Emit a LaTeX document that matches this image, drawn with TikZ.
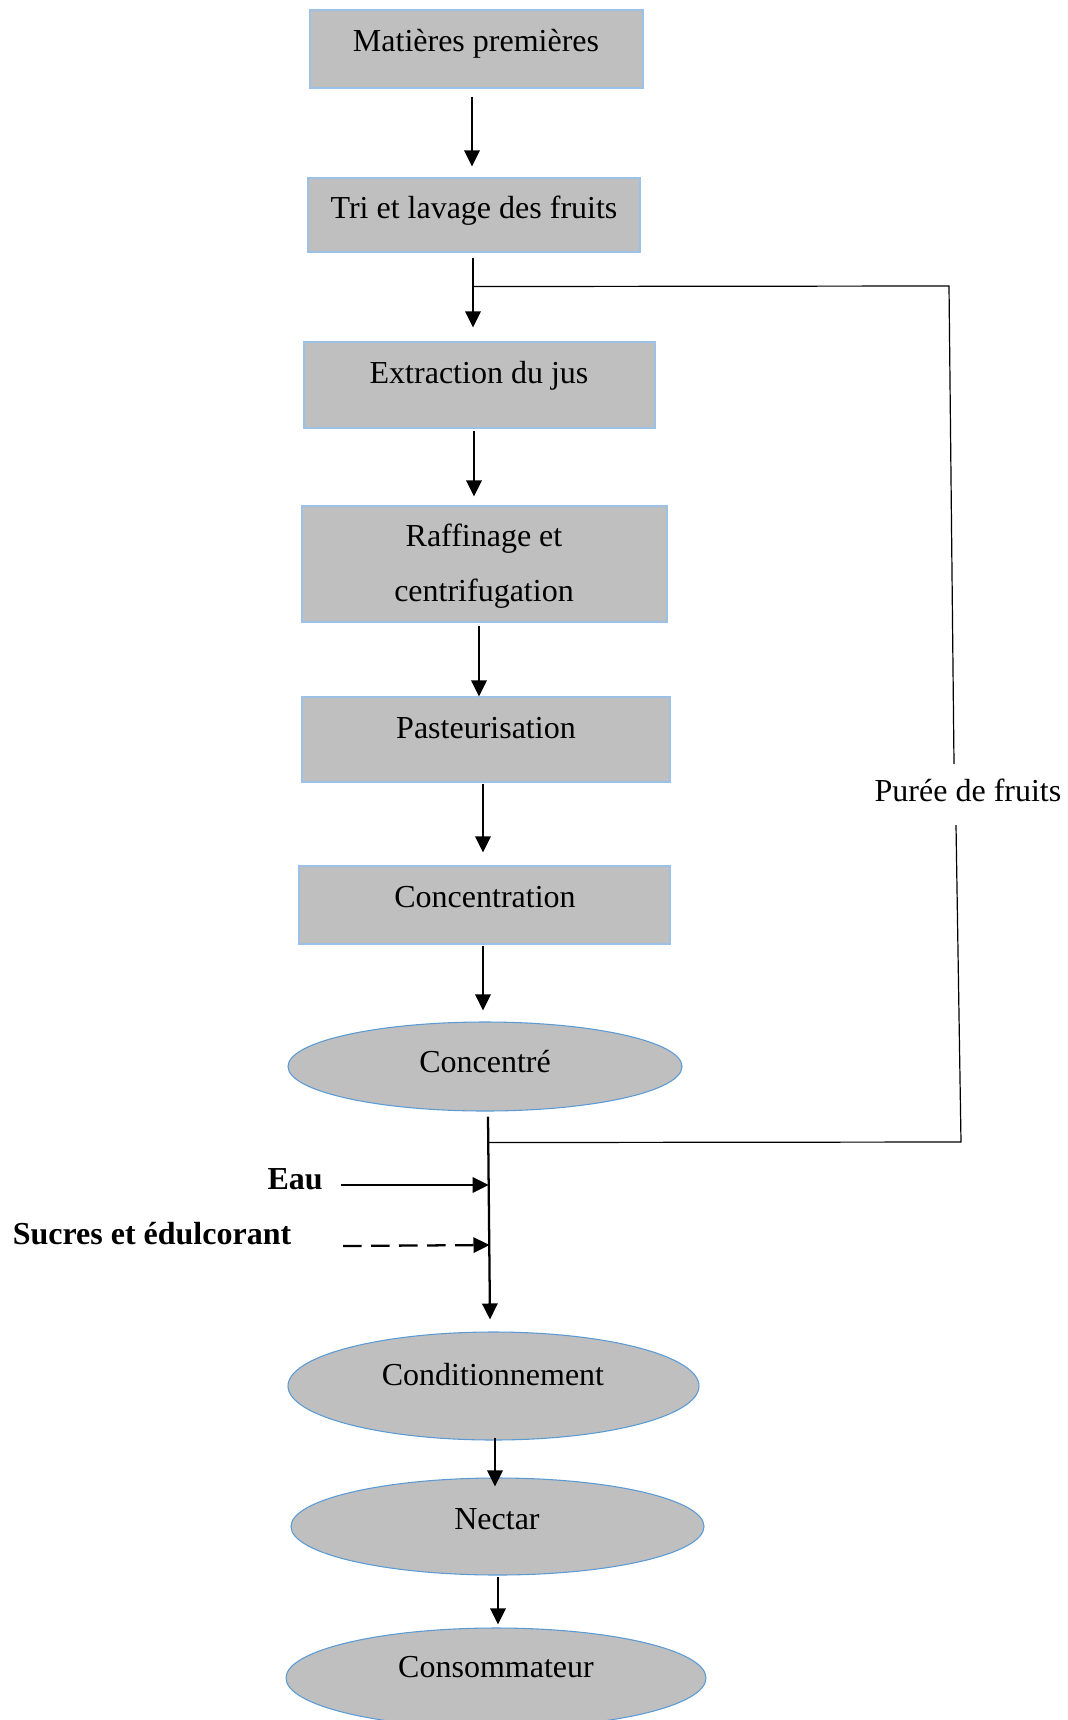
\documentclass[tikz,border=0pt]{standalone}
\usepackage{fontspec}
\setmainfont{Liberation Serif}
\usetikzlibrary{shapes.geometric,arrows.meta,calc}
\definecolor{boxfill}{RGB}{191,191,191}
\definecolor{boxline}{RGB}{155,194,230}
\definecolor{ellline}{RGB}{91,155,213}
\def\pxu{0.75pt}
\begin{document}
\begin{tikzpicture}[x=0.75pt,y=-0.75pt,
  stepbox/.style={draw=boxline, line width=0.8pt, fill=boxfill, inner sep=0pt},
  ellbox/.style={ellipse, draw=ellline, line width=0.8pt, fill=boxfill, inner sep=0pt},
  lbl/.style={font=\fontsize{24}{41}\selectfont, text height=16.5pt, text depth=5.3pt, inner sep=0pt},
  blbl/.style={lbl, font=\fontsize{24}{41}\selectfont\bfseries},
  arr/.style={line width=1.7pt, -{Triangle[length=12pt,width=11.5pt]}},
  thinline/.style={line width=0.9pt}]
\useasboundingbox (0,0) rectangle (1067,1720);

% boxes
\node[stepbox, minimum width=333*\pxu, minimum height=78*\pxu] (b1) at (476.5,49) {};
\node[stepbox, minimum width=332*\pxu, minimum height=74*\pxu] (b2) at (474,215) {};
\node[stepbox, minimum width=351*\pxu, minimum height=86*\pxu] (b3) at (479.5,385) {};
\node[stepbox, minimum width=365*\pxu, minimum height=116*\pxu] (b4) at (484.5,564) {};
\node[stepbox, minimum width=368*\pxu, minimum height=85*\pxu] (b5) at (486,739.5) {};
\node[stepbox, minimum width=371*\pxu, minimum height=78*\pxu] (b6) at (484.5,905) {};
\node[ellbox, minimum width=394*\pxu, minimum height=89*\pxu] (e1) at (485,1066.5) {};
\node[ellbox, minimum width=411*\pxu, minimum height=108*\pxu] (e2) at (493.5,1386) {};
\node[ellbox, minimum width=413*\pxu, minimum height=97*\pxu] (e3) at (497.5,1526.5) {};
\node[ellbox, minimum width=420*\pxu, minimum height=100*\pxu] (e4) at (496,1678) {};

% texts
\node[lbl] (t1) at (476,44.5) {Matières premières};
\node[lbl] (t2) at (474,211.5) {Tri et lavage des fruits};
\node[lbl] (t3) at (479,376.5) {Extraction du jus};
\node[lbl] (t4a) at (484,539.5) {Raffinage et};
\node[lbl] (t4b) at (484,594.5) {centrifugation};
\node[lbl] (t5) at (486,731.5) {Pasteurisation};
\node[lbl] (t6) at (485,900.5) {Concentration};
\node[lbl] (t7) at (485,1065.5) {Concentré};
\node[lbl] (t8) at (493,1378.5) {Conditionnement};
\node[lbl] (t9) at (497,1522.5) {Nectar};
\node[lbl] (t10) at (496,1670.5) {Consommateur};
\node[lbl] (tp) at (968,794.5) {Purée de fruits};
\node[blbl, anchor=east] (teau) at (323,1182.5) {Eau};
\node[blbl] (tsuc) at (152,1237.5) {Sucres et édulcorant};

% main arrows
\draw[arr] ($(b1.south)+(-4.5,8)$) -- ($(b2.north)+(-2,-11)$);
\draw[arr] ($(b2.south)+(-1,5)$) -- ($(b3.north)+(-6.5,-14)$);
\draw[arr] ($(b3.south)+(-5.5,2)$) -- ($(b4.north)+(-10.5,-9)$);
\draw[arr] ($(b4.south)+(-5.5,3)$) -- ($(b5.north)+(-7,0)$);
\draw[arr] ($(b5.south)+(-3,1)$) -- ($(b6.north)+(-1.5,-13)$);
\draw[arr] ($(b6.south)+(-1.5,1)$) -- ($(e1.north)+(-2,-11)$);
\draw[arr] ($(e1.south)+(3,5)$) -- ($(e2.north)+(-3.5,-12)$);
\draw[arr] ($(e2.south)+(1.5,-3)$) -- ($(e3.north)+(-2.5,9)$);
\draw[arr] ($(e3.south)+(0.5,1)$) -- ($(e4.north)+(2,-3)$);

% bypass (puree de fruits)
\coordinate (br1) at ($(b2.south)+(-1,34)$);
\coordinate (br2) at ($(e1.south)+(3.5,31)$);
\coordinate (r1) at (949,286);
\coordinate (r2) at (954,764);
\coordinate (r3) at (956,825);
\coordinate (r4) at (961,1142);
\draw[thinline] (br1) -- (r1) -- (r2);
\draw[thinline] (r3) -- (r4) -- (br2);

% inputs
\coordinate (eauS) at (341,1185);
\coordinate (eauE) at (488.7,1185);
\coordinate (sucS) at (343,1246);
\coordinate (sucE) at (489.5,1245);
\draw[arr] (eauS) -- (eauE);
\draw[arr, dash pattern=on 14pt off 7pt] (sucS) -- (sucE);
\end{tikzpicture}
\end{document}
